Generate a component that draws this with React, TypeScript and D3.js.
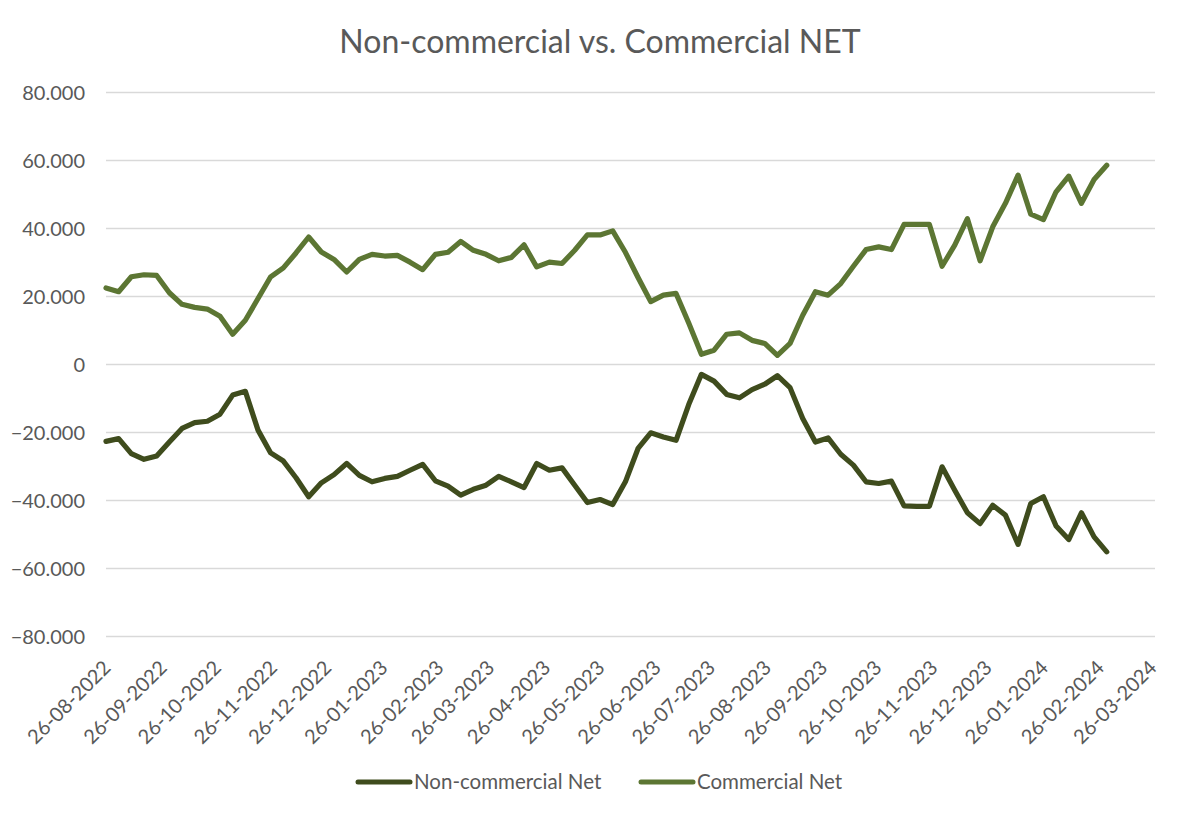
import React from "react";
import * as d3 from "d3";

const startDate = new Date(2022, 7, 26);
const axisEnd = new Date(2024, 2, 26);
const weekCount = 80;

const commercialNet = [22.5,21.4,25.8,26.4,26.2,21.1,17.7,16.8,16.3,14.2,8.9,13.0,19.4,25.8,28.4,32.8,37.5,33.1,30.9,27.2,30.9,32.4,
  31.9,32.1,30.1,27.9,32.4,33.0,36.2,33.6,32.4,30.5,31.5,35.2,28.7,30.1,29.7,33.6,38.1,38.1,39.3,33.0,25.6,18.5,
  20.4,20.9,12.2,3.0,4.2,8.9,9.3,7.1,6.2,2.7,6.2,14.5,21.4,20.4,23.8,28.9,33.8,34.6,33.8,41.2,
  41.2,41.2,28.9,35.1,42.9,30.5,40.5,47.4,55.7,44.2,42.6,50.8,55.4,47.4,54.4,58.6].map(v => v * 1000);

const nonCommercialNet = [-22.6,-21.8,-26.2,-27.9,-26.9,-22.8,-18.8,-17.1,-16.7,-14.6,-9.0,-7.9,-19.3,-26.0,-28.4,-33.3,-38.9,-34.8,-32.4,-29.1,-32.6,-34.5,
  -33.5,-32.9,-31.1,-29.4,-34.2,-35.8,-38.4,-36.7,-35.5,-32.9,-34.5,-36.2,-29.1,-31.1,-30.4,-35.5,-40.6,-39.7,-41.2,-34.5,-24.7,-20.1,
  -21.3,-22.3,-11.8,-2.9,-4.9,-8.8,-9.8,-7.4,-5.8,-3.3,-6.8,-15.9,-22.8,-21.6,-26.4,-29.6,-34.5,-35.0,-34.3,-41.6,
  -41.7,-41.7,-30.1,-37.0,-43.6,-46.8,-41.4,-44.3,-52.9,-40.9,-38.9,-47.5,-51.5,-43.6,-50.7,-55.1].map(v => v * 1000);

const yTicks = [80000, 60000, 40000, 20000, 0, -20000, -40000, -60000, -80000];

const seriesNames = ["Non-commercial Net", "Commercial Net"];
const seriesColors = ["#3F4C1D", "#5C7633"];

const W = 1200, H = 818;
const FONT = "Lato, 'Open Sans', sans-serif";
const TXT = "#595959";

export default function App() {
  const dates = d3.range(weekCount).map(i => d3.timeDay.offset(startDate, i * 7));
  const x = d3.scaleTime().domain([startDate, axisEnd]).range([106, 1152]);
  const y = d3.scaleLinear().domain([-80000, 80000]).range([636.5, 92.5]);
  const loc = d3.formatLocale({ decimal: ",", thousands: ".", grouping: [3], currency: ["", ""] });
  const fmt = loc.format(",.0f");
  const monthTicks = d3.range(0, 20).map(i => d3.timeMonth.offset(startDate, i));
  const line = d3.line<number>().x((_, i) => x(dates[i])).y(v => y(v));
  const series = [nonCommercialNet, commercialNet];

  return (
    <svg width={W} height={H} style={{ display: "block", position: "absolute", left: 0, top: 0, background: "#fff" }}>
      <rect width={W} height={H} fill="#fff" />
      <text x={600} y={53} textAnchor="middle" fontFamily={FONT} fontSize={32} fill={TXT}>Non-commercial vs. Commercial NET</text>
      {yTicks.map(t => (
        <g key={t}>
          <line x1={106} x2={1155} y1={y(t)} y2={y(t)} stroke="#D9D9D9" strokeWidth={1.3} />
          <text x={85} y={y(t) + 7} textAnchor="end" fontFamily={FONT} fontSize={20} fill={TXT}>{fmt(t)}</text>
        </g>
      ))}
      {monthTicks.map((d, i) => (
        <text key={i} transform={`translate(${x(d) + 6},${669}) rotate(-45)`} textAnchor="end" fontFamily={FONT} fontSize={20} fill={TXT}>
          {d3.timeFormat("%d-%m-%Y")(d)}
        </text>
      ))}
      {series.map((s, i) => (
        <path key={i} d={line(s) || ""} fill="none" stroke={seriesColors[i]} strokeWidth={5.2} strokeLinejoin="round" strokeLinecap="round" />
      ))}
      {seriesNames.map((n, i) => {
        const lx = i === 0 ? 358 : 641;
        return (
          <g key={n}>
            <line x1={lx} x2={lx + 52} y1={782} y2={782} stroke={seriesColors[i]} strokeWidth={5} strokeLinecap="round" />
            <text x={lx + 56} y={789} fontFamily={FONT} fontSize={20.5} fill={TXT}>{n}</text>
          </g>
        );
      })}
    </svg>
  );
}
